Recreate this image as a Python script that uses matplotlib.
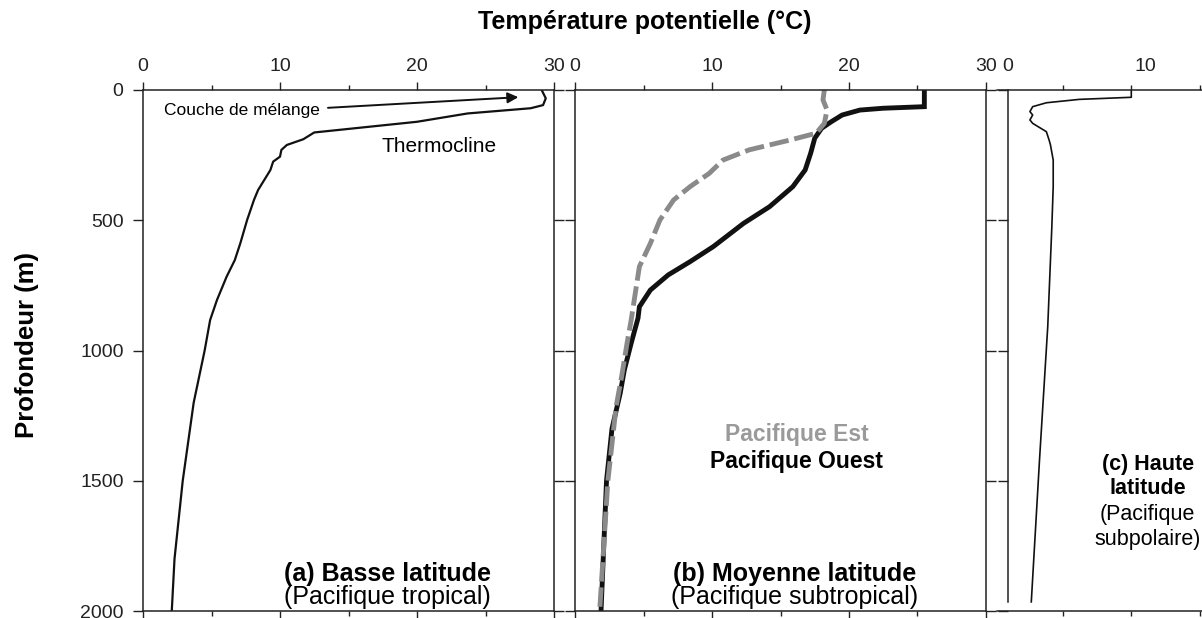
import matplotlib.pyplot as plt
from matplotlib.ticker import MultipleLocator, FixedLocator

plt.rcParams['font.family'] = ['Liberation Sans', 'DejaVu Sans']

# (a) Basse latitude - Pacifique tropical
depth_a = [0, 32, 58, 70, 90, 122, 151, 163, 189, 211, 230, 256, 275, 307, 384, 422,
           499, 589, 653, 717, 806, 883, 1000, 1200, 1500, 1800, 2000]
temp_a = [29.1, 29.4, 29.2, 28.3, 23.7, 20.0, 14.7, 12.5, 11.7, 10.5, 10.1, 10.0, 9.5, 9.3,
          8.4, 8.1, 7.6, 7.1, 6.7, 6.1, 5.4, 4.9, 4.5, 3.7, 2.9, 2.3, 2.1]

# (b) Moyenne latitude - Pacifique Ouest (noir) / Pacifique Est (gris)
depth_w = [0, 64, 70, 77, 96, 122, 147, 185, 243, 307, 371, 448, 512, 601, 659, 710, 768,
           832, 876, 972, 1075, 1164, 1300, 1500, 1750, 2000]
temp_w = [25.5, 25.5, 22.5, 20.8, 19.5, 18.7, 18.0, 17.5, 17.2, 16.8, 15.9, 14.2, 12.3, 10.1,
          8.4, 6.8, 5.5, 4.7, 4.6, 4.1, 3.6, 3.3, 2.7, 2.3, 2.1, 1.9]
depth_e = [0, 38, 77, 128, 166, 192, 230, 269, 320, 371, 422, 499, 589, 678, 780, 883, 972,
           1101, 1216, 1500, 2000]
temp_e = [18.2, 18.1, 18.4, 18.2, 17.6, 15.7, 12.7, 10.8, 9.8, 8.4, 7.2, 6.2, 5.5, 4.7, 4.4,
          4.1, 3.8, 3.4, 3.0, 2.4, 1.8]

# (c) Haute latitude - Pacifique subpolaire
depth_c = [0, 28, 36, 49, 64, 83, 96, 115, 128, 160, 192, 211, 269, 371, 525, 909, 1420, 1965]
temp_c = [9.0, 9.0, 5.2, 2.8, 1.8, 1.6, 1.8, 1.6, 1.8, 2.8, 3.0, 3.1, 3.3, 3.3, 3.2, 2.9,
          2.3, 1.7]

depth_ticks = [0, 500, 1000, 1500, 2000]

W, H = 1202, 618
fig = plt.figure(figsize=(W / 100, H / 100), dpi=100)
bot = (H - 611) / H
hgt = 521 / H
ax_a = fig.add_axes([143 / W, bot, 411 / W, hgt])
ax_b = fig.add_axes([575 / W, bot, 411 / W, hgt])
ax_c = fig.add_axes([997 / W, bot, 205 / W, hgt])

spine_col = '#222222'
for ax in (ax_a, ax_b, ax_c):
    ax.set_ylim(2000, 0)
    ax.set_yticks(depth_ticks)
    for s in ax.spines.values():
        s.set_linewidth(1.1)
        s.set_color(spine_col)
    ax.tick_params(axis='x', which='both', top=True, bottom=True, labeltop=True,
                   labelbottom=False, direction='out', color=spine_col, width=1.0,
                   labelsize=14, pad=5, labelcolor='#222222')
    ax.tick_params(axis='x', which='major', length=6)
    ax.tick_params(axis='x', which='minor', length=3.5)
    ax.tick_params(axis='y', direction='out', length=7, width=1.0, color=spine_col,
                   labelsize=14, pad=7, labelcolor='#222222')

for ax in (ax_a, ax_b):
    ax.set_xlim(0, 30)
    ax.xaxis.set_major_locator(MultipleLocator(10))
    ax.xaxis.set_minor_locator(MultipleLocator(5))
    ax.tick_params(axis='y', left=True, right=True, labelleft=False)
ax_a.tick_params(axis='y', labelleft=True)

# panel c has its own offset scale
ax_c.set_xlim(-11 / 13.7, 194 / 13.7)
ax_c.xaxis.set_major_locator(FixedLocator([0, 10]))
ax_c.xaxis.set_minor_locator(FixedLocator([4, 9, 14]))
ax_c.tick_params(axis='x', which='major', length=0, pad=11)
ax_c.tick_params(axis='y', left=True, right=False, labelleft=False)
ax_c.spines['left'].set_position(('data', 0))
ax_c.spines['left'].set_bounds(0, 1965)
ax_c.spines['right'].set_visible(False)

ax_a.plot(temp_a, depth_a, color='#111111', lw=1.6)
ax_b.plot(temp_w, depth_w, color='#111111', lw=3.5, solid_joinstyle='miter')
ax_b.plot(temp_e, depth_e, color='#8a8a8a', lw=3.5, dashes=(4, 1.2))
ax_c.plot(temp_c, depth_c, color='#111111', lw=1.2)

# annotations
ax_a.annotate('', xy=(27.6, 27), xytext=(13.3, 69),
              arrowprops=dict(arrowstyle='-|>', color='#111111', lw=1.4,
                              mutation_scale=16))
ax_a.text(1.5, 77, 'Couche de mélange', fontsize=12.5, va='center', ha='left')
ax_a.text(21.6, 215, 'Thermocline', fontsize=15, va='center', ha='center')

ax_a.text(17.85, 1858, '(a) Basse latitude', fontsize=18, fontweight='bold',
          ha='center', va='center')
ax_a.text(17.85, 1946, '(Pacifique tropical)', fontsize=18, ha='center', va='center')

ax_b.text(16.2, 1324, 'Pacifique Est', fontsize=16.5, fontweight='bold', color='#9a9a9a',
          ha='center', va='center')
ax_b.text(16.2, 1428, 'Pacifique Ouest', fontsize=16.5, fontweight='bold',
          ha='center', va='center')
ax_b.text(16.0, 1858, '(b) Moyenne latitude', fontsize=18, fontweight='bold',
          ha='center', va='center')
ax_b.text(16.0, 1946, '(Pacifique subtropical)', fontsize=18, ha='center', va='center')

ax_c.text(10.2, 1436, '(c) Haute', fontsize=15.5, fontweight='bold', ha='center', va='center')
ax_c.text(10.2, 1528, 'latitude', fontsize=15.5, fontweight='bold', ha='center', va='center')
ax_c.text(10.2, 1628, '(Pacifique', fontsize=15.5, ha='center', va='center')
ax_c.text(10.2, 1727, 'subpolaire)', fontsize=15.5, ha='center', va='center')

fig.text(645 / W, 1 - 22 / H, 'Température potentielle (°C)', fontsize=18,
         fontweight='bold', ha='center', va='center')
fig.text(27 / W, 1 - 345 / H, 'Profondeur (m)', fontsize=18.5, fontweight='bold',
         rotation=90, ha='center', va='center')

fig.savefig('out.png', dpi=100)
